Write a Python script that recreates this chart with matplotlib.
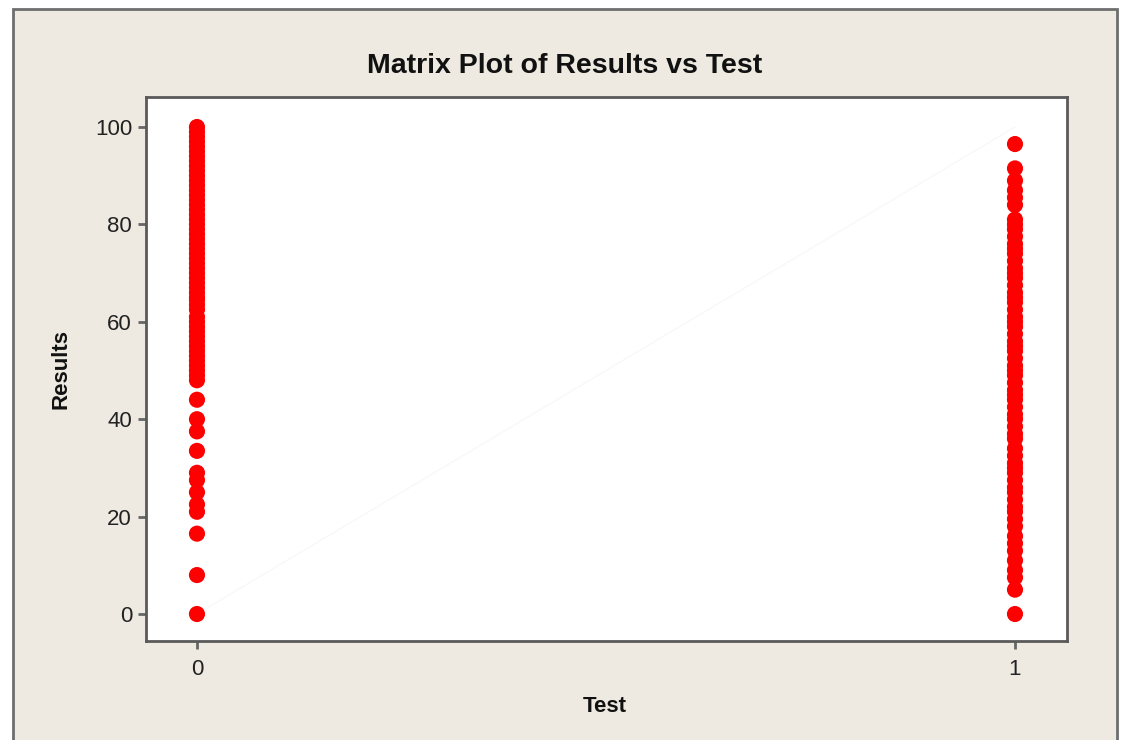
import numpy as np
import matplotlib
matplotlib.use('Agg')
from matplotlib import pyplot as plt
from matplotlib.patches import Rectangle

plt.rcParams['font.family'] = ['Liberation Sans', 'DejaVu Sans']

# results for test 0
results_0 = [0, 8, 16.5, 21, 22.5, 25, 27.5, 29, 33.5, 37.5, 40, 44,
             48, 49, 50, 51, 52, 53, 54, 55, 56, 57, 58, 59, 60, 61, 62.5, 63.5, 64.5, 65,
             66, 67, 68, 69, 70, 71, 72, 73, 74, 75, 76, 77, 78, 79, 80, 81, 82,
             83, 84, 85, 86, 87, 88, 89, 90, 91, 92, 93, 94, 95, 96, 97, 98,
             99, 100]

# results for test 1
results_1 = [0, 5, 7.5, 9, 11, 13, 14.5, 16, 18, 19.5, 21, 22, 23.5, 25, 26,
             27.5, 29, 30, 31, 32.5, 34, 36, 37, 38.5, 40, 41, 42.5, 44, 45,
             46, 47.5, 49, 50, 51, 52.5, 54, 55, 56, 57.5, 59, 60, 61, 62.5,
             64, 65, 66, 67.5, 69, 70, 71, 72.5, 74, 75, 76, 77.5, 79, 80, 81,
             84, 85.5, 87, 89, 91.5, 96.5]

x_ticks = [0, 1]
y_ticks = [0, 20, 40, 60, 80, 100]

fig = plt.figure(figsize=(11.25, 7.4), dpi=100)
fig.patch.set_facecolor('white')

# beige frame behind everything
frame = Rectangle((13 / 1125, -0.05), (1117 - 13) / 1125, 1 - 9 / 740 + 0.05,
                  transform=fig.transFigure, facecolor='#eeeae1',
                  edgecolor='#6e6e6e', linewidth=2, zorder=-10)
fig.add_artist(frame)

ax = fig.add_axes([146 / 1125, 1 - 641 / 740, (1067 - 146) / 1125, (641 - 97) / 740])
ax.set_facecolor('white')

# very faint diagonal line
ax.plot([0, 1], [0, 100], color='#f8f8f8', linewidth=1, zorder=1)

ax.scatter([0] * len(results_0), results_0, s=135, color='#ff0000', edgecolors='none', zorder=3)
ax.scatter([1] * len(results_1), results_1, s=135, color='#ff0000', edgecolors='none', zorder=3)

ax.set_xlim(-0.0623, 1.0636)
ax.set_ylim(-5.54, 106.16)
ax.set_xticks(x_ticks)
ax.set_yticks(y_ticks)
ax.tick_params(direction='out', length=6, width=2, color='#666666',
               labelsize=16, labelcolor='#222222', pad=4)
ax.tick_params(axis='x', pad=7)

for sp in ax.spines.values():
    sp.set_color('#5a5a5a')
    sp.set_linewidth(2)

ax.set_xlabel('Test', fontsize=16, fontweight='bold', color='#111111', va='center')
ax.set_ylabel('Results', fontsize=16, fontweight='bold', color='#111111', va='center')
ax.xaxis.set_label_coords(0.5 + (605 - 606.5) / 921, -(706 - 641) / 544)
ax.yaxis.set_label_coords(-(146 - 61) / 921, 0.5)

fig.text(565 / 1125, 1 - 66 / 740, 'Matrix Plot of Results vs Test', ha='center', va='center',
         fontsize=20.5, fontweight='bold', color='#111111')

fig.savefig('out.png', dpi=100)
